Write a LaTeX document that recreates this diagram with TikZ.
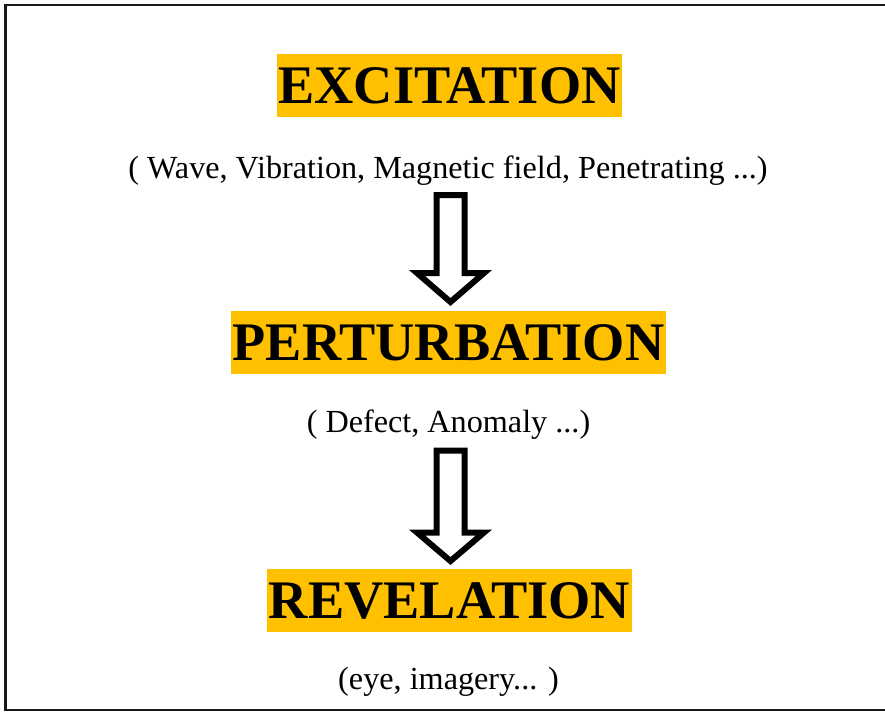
\documentclass[tikz,border=0pt]{standalone}
\usepackage{fontspec}
\setmainfont{Liberation Serif}
\usetikzlibrary{calc}
\definecolor{gold}{HTML}{FFC000}
\tikzset{
  heading/.style={fill=gold, font=\fontsize{54.3}{60}\selectfont\bfseries,
    text height=36pt, text depth=0pt, inner xsep=2pt, inner ysep=13.5pt},
  subtitle/.style={anchor=base, inner sep=0pt, font=\fontsize{32.2}{38}\selectfont},
  blockarrow/.style={draw=black, line width=6pt, fill=white, line join=miter, miter limit=10},
  frame/.style={draw=black!90, line width=2.6pt}
}
\begin{document}
\begin{tikzpicture}[x=1pt,y=-1pt]
\useasboundingbox (0,0) rectangle (885,713);
\draw[frame] (5.5,4.8) rectangle (900,710);

\node[heading] (exc) at (449.5,85.5) {EXCITATION};
\node[subtitle] (exctxt) at (448,178) {( Wave, Vibration, Magnetic field, Penetrating ...)};

\node[heading] (per) at (448.5,342) {PERTURBATION};
\node[subtitle] (pertxt) at (448.5,432) {( Defect, Anomaly ...)};

\node[heading] (rev) at (449.5,600.5) {REVELATION};
\node[subtitle] (revtxt) at (448.5,689) {(eye, imagery... )};

\coordinate (a1top) at (450.5,195);
\coordinate (a1tip) at (450.5,302);
\coordinate (a2top) at (450.5,450.5);
\coordinate (a2tip) at (450.5,561);

\draw[blockarrow] ($(a1top)+(-14,0)$) -- ($(a1top)+(14,0)$) -- ($(a1tip)+(14,-29)$)
  -- ($(a1tip)+(33.5,-29)$) -- (a1tip) -- ($(a1tip)+(-33.5,-29)$)
  -- ($(a1tip)+(-14,-29)$) -- cycle;
\draw[blockarrow] ($(a2top)+(-14,0)$) -- ($(a2top)+(14,0)$) -- ($(a2tip)+(14,-28.5)$)
  -- ($(a2tip)+(33.5,-28.5)$) -- (a2tip) -- ($(a2tip)+(-33.5,-28.5)$)
  -- ($(a2tip)+(-14,-28.5)$) -- cycle;
\end{tikzpicture}
\end{document}
